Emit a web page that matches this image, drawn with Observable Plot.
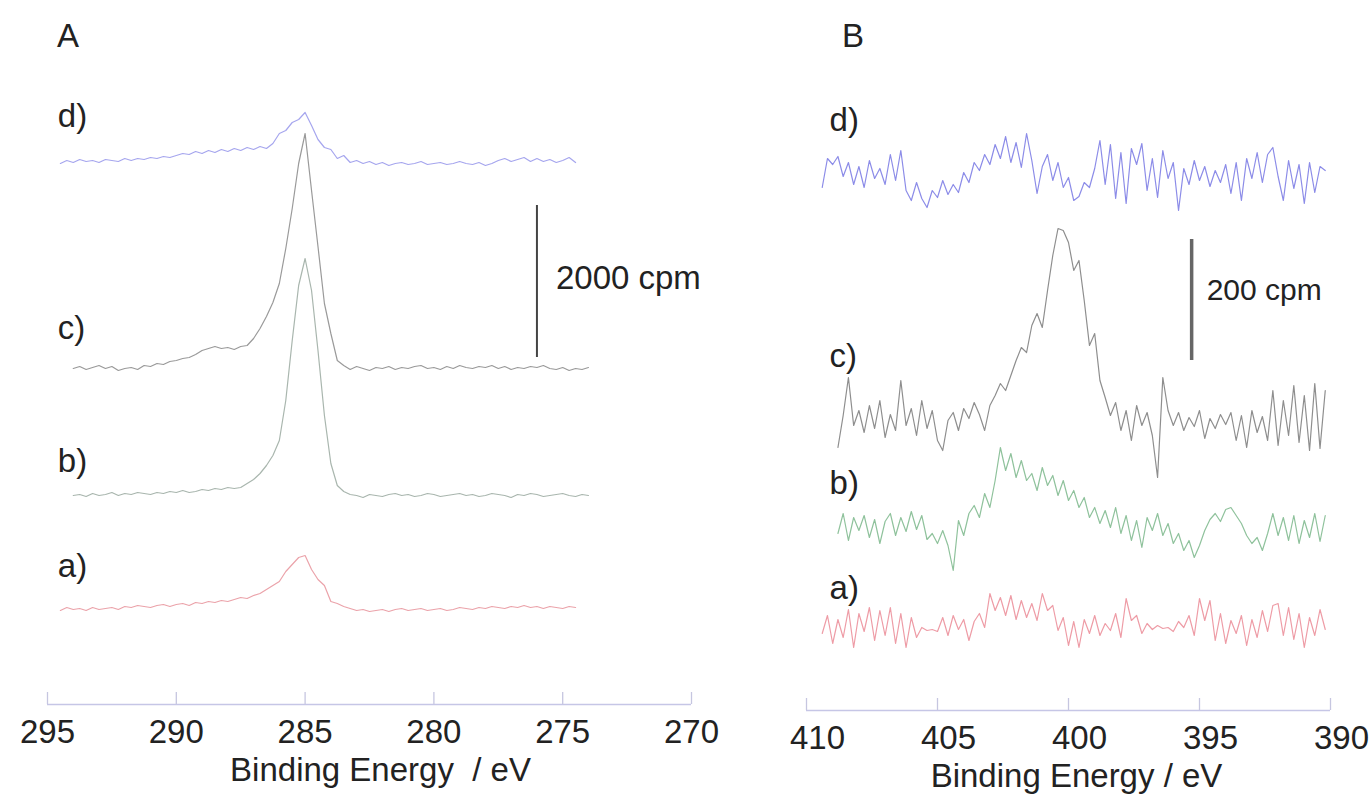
<!DOCTYPE html>
<html>
<head>
<meta charset="utf-8">
<script src="https://cdn.jsdelivr.net/npm/d3@7"></script>
<script src="https://cdn.jsdelivr.net/npm/@observablehq/plot@0.6"></script>
<style>
  html, body { margin: 0; padding: 0; background: #fff; }
  #wrap { position: relative; width: 1372px; height: 803px; overflow: hidden;
          font-family: "Liberation Sans", Arial, Helvetica, sans-serif; }
  .panel { position: absolute; top: 0; }
  .tag { position: absolute; top: 19px; font-size: 33px; line-height: 33px; color: #222; }
</style>
</head>
<body>
<div id="wrap">
  <div class="tag" style="left:57px">A</div>
  <div class="tag" style="left:842px">B</div>
  <div id="pa" class="panel" style="left:0px"></div>
  <div id="pb" class="panel" style="left:760px"></div>
</div>
<script>
// ---------------- DATA ----------------
const seriesNames = ["a)", "b)", "c)", "d)"];

// Panel A: C 1s region (binding energy, eV)
const energyA = [294.5,294.25,294,293.75,293.5,293.25,293,292.75,292.5,292.25,
  292,291.75,291.5,291.25,291,290.75,290.5,290.25,290,289.75,
  289.5,289.25,289,288.75,288.5,288.25,288,287.75,287.5,287.25,
  287,286.75,286.5,286.25,286,285.75,285.5,285.25,285,284.75,
  284.5,284.25,284,283.75,283.5,283.25,283,282.75,282.5,282.25,
  282,281.75,281.5,281.25,281,280.75,280.5,280.25,280,279.75,
  279.5,279.25,279,278.75,278.5,278.25,278,277.75,277.5,277.25,
  277,276.75,276.5,276.25,276,275.75,275.5,275.25,275,274.75,
  274.5,274.25,274];
// intensities (arbitrary units; 152 units = 2000 cpm)
const aA = [-1,2,0,1,-1,2,0,1,2,0, 3,2,4,3,2,4,5,3,5,6, 4,7,6,8,7,9,8,10,12,11,
  14,16,20,24,28,38,45,52,54,40, 30,24,8,6,3,1,-1,0,-2,-1, 0,-2,0,1,-1,0,1,-1,0,1,
  -1,0,2,1,0,2,1,3,2,1, 3,2,4,2,3,1,3,2,1,3, 2,null,null];
const bA = [null,null,0,1,-1,2,0,1,3,0, 2,1,3,2,1,3,2,4,3,5, 3,4,6,5,7,6,8,7,8,12,
  16,22,30,40,55,95,155,210,237,205, 145,80,32,10,4,1,0,-2,1,0, -1,1,2,0,1,-1,0,2,1,-1,
  0,1,2,0,1,-1,0,2,1,0, -2,1,0,2,1,-1,0,1,2,0, -1,1,0];
const cA = [null,null,0,2,-1,1,3,0,2,-2, 0,1,-1,3,2,5,4,7,8,10, 11,14,18,20,22,20,21,19,22,23,
  30,40,52,66,85,120,160,205,235,178, 122,65,35,8,3,-1,2,0,-2,1, 0,2,-1,1,0,2,3,0,1,-1,
  2,0,3,1,0,2,1,3,0,2, -1,1,0,2,1,3,0,-1,1,-2, 0,-1,1];
const dA = [0,3,1,4,2,3,1,4,3,2, 5,3,5,4,6,5,7,6,8,10, 9,12,10,13,11,14,12,15,13,16,
  14,17,15,20,30,33,41,44,51,38, 24,16,14,5,8,1,3,0,2,-1, 1,-2,0,1,-1,0,2,-1,0,1,
  -1,0,2,0,-1,1,-2,0,3,5, 2,4,6,2,5,2,4,1,3,6, 1,null,null];
const offsetsA = [95, 209, 336, 541];       // vertical stacking of a)..d)
const ticksA = [295, 290, 285, 280, 275, 270];

// Panel B: N 1s region (binding energy, eV)
const energyB = [409.4,409.2,409,408.8,408.6,408.4,408.2,408,407.8,407.6,
  407.4,407.2,407,406.8,406.6,406.4,406.2,406,405.8,405.6,
  405.4,405.2,405,404.8,404.6,404.4,404.2,404,403.8,403.6,
  403.4,403.2,403,402.8,402.6,402.4,402.2,402,401.8,401.6,
  401.4,401.2,401,400.8,400.6,400.4,400.2,400,399.8,399.6,
  399.4,399.2,399,398.8,398.6,398.4,398.2,398,397.8,397.6,
  397.4,397.2,397,396.8,396.6,396.4,396.2,396,395.8,395.6,
  395.4,395.2,395,394.8,394.6,394.4,394.2,394,393.8,393.6,
  393.4,393.2,393,392.8,392.6,392.4,392.2,392,391.8,391.6,
  391.4,391.2,391,390.8,390.6,390.4,390.2];
// intensities (arbitrary units; 121 units = 200 cpm)
const aB = [-8,10,-18,6,-12,16,-22,12,-6,18, -15,15,-10,18,-18,12,-22,8,-12,-2,
  -5,-4,-6,8,-10,10,-4,6,-15,4, 12,-2,32,15,28,10,30,6,25,8,
  22,5,32,15,20,-5,8,-20,4,-22, 6,-8,10,-10,2,-5,12,-12,27,5,
  10,-8,2,-4,0,-3,-2,-6,4,-2, 10,-10,27,5,25,-15,12,-18,5,-8,
  10,-20,6,-12,15,-6,20,22,-10,18, -14,12,-22,8,-10,16,-4];
const bB = [null,null,null,-8,12,-15,8,-5,10,-12, 6,-18,4,12,-10,8,-6,14,-4,10,
  -14,-8,-18,-5,-20,-45,5,-10,12,20, 8,32,18,45,78,55,72,48,65,45,
  52,35,58,40,50,30,45,25,35,18, 28,8,18,2,15,-2,18,-8,10,-15,
  5,-22,8,-5,12,-10,2,-18,-8,-25, -15,-32,-20,-5,6,12,4,16,18,10,
  2,-10,-18,-12,-25,-8,12,-10,8,-15, 10,-18,5,-12,12,-16,10];
const cB = [null,null,null,-27,5,43,-5,10,-12,15, -8,20,-17,6,-10,40,-5,12,-15,20,
  -8,10,-20,-30,0,8,-10,12,2,18, 6,-10,15,25,37,30,45,60,73,68,
  95,107,93,130,165,192,190,178,150,160, 120,75,87,40,23,5,18,-10,10,-20,
  15,-5,8,-15,-57,43,10,-5,8,-10, 3,-6,10,-18,2,-8,6,-4,8,-20,
  5,-27,10,-12,4,-20,30,-25,20,-15, 35,-22,25,-30,37,-28,30];
const dB = [-15,14,8,16,-4,10,-12,6,-15,12, -6,4,-12,18,-8,22,-18,-28,-10,-26,
  -35,-18,-25,-8,-22,-12,-20,0,-10,10, 2,18,8,28,14,36,10,30,5,39,
  12,-21,6,18,-8,10,-15,-5,-28,-24, -10,-15,4,32,-12,28,-26,20,-31,24,
  8,29,-18,14,-25,22,-6,10,-38,4, -12,12,-8,6,-14,2,-10,8,-21,10,
  -28,14,-6,20,-10,18,25,-4,-28,12, -16,8,-31,10,-20,6,2];
const offsetsB = [85, 185, 290, 538];
const ticksB = [410, 405, 400, 395, 390];

// ---------------- DRAW ----------------
const FONT = '"Liberation Sans", Arial, Helvetica, sans-serif';
const H = 803, TOP = 90;

function rows(energy, seriesValues, offsets, unit) {
  const out = [];
  seriesValues.forEach((vals, k) => vals.forEach((v, i) => {
    if (v != null) out.push({energy: energy[i], series: seriesNames[k], cpm: (v + offsets[k]) * unit});
  }));
  return out;
}

function panel(o) {
  const plotH = H - TOP - o.marginBottom;
  const data = rows(o.energy, o.values, o.offsets, o.unit);
  const labels = seriesNames.map((s, k) => ({s, y: (o.offsets[k] + o.lifts[k]) * o.unit}));
  return Plot.plot({
    width: o.width, height: H,
    marginTop: TOP, marginBottom: o.marginBottom, marginLeft: o.marginLeft, marginRight: o.marginRight,
    style: {fontFamily: FONT, background: "transparent", color: "#222", overflow: "visible"},
    x: {domain: o.xDomain, axis: null},
    y: {domain: [0, plotH * o.unit], axis: null},
    color: {domain: seriesNames, range: o.colors},
    marks: [
      Plot.ruleY([0], {stroke: "#c6c6e6", strokeWidth: 1.6}),
      Plot.ruleX(o.ticks, {x: d => d, stroke: "#c6c6e0", strokeWidth: 1.3, insetTop: plotH - 12}),
      Plot.axisX(o.ticks, {tickSize: 0, tickPadding: 15, fontSize: 33, fill: "#222", dx: o.tickDx,
                           label: null, tickFormat: d => String(d)}),
      Plot.line(data, {x: "energy", y: "cpm", z: "series", stroke: "series", strokeWidth: 1.2}),
      Plot.text(labels, {x: o.labelX, y: "y", text: "s", textAnchor: "start", fontSize: 33, fill: "#222"}),
      Plot.ruleX([o.bar.energy], {y1: o.bar.bottom * o.unit, y2: o.bar.bottom * o.unit + o.bar.cpm,
                                  stroke: o.bar.color, strokeWidth: o.bar.width}),
      Plot.text([o.bar.label], {x: o.bar.energy, y: o.bar.textLevel * o.unit, dx: o.bar.dx,
                                textAnchor: "start", fontSize: o.bar.fontSize, fill: "#222"}),
      Plot.text([o.title], {frameAnchor: "bottom", dy: 76, dx: o.titleDx, fontSize: 33, fill: "#222"})
    ]
  });
}

document.getElementById("pa").append(panel({
  energy: energyA, values: [aA, bA, cA, dA], offsets: offsetsA, unit: 2000 / 152,
  colors: ["#eba3aa", "#a9b6ae", "#9a9a9a", "#a6a6ee"],
  ticks: ticksA, xDomain: [295, 270],
  width: 720, marginLeft: 47, marginRight: 29, marginBottom: 99, tickDx: 0,
  labelX: 294.6, lifts: [43, 34, 40, 47],
  bar: {energy: 276.0, bottom: 347, cpm: 2000, label: "2000 cpm", textLevel: 426, dx: 19,
        fontSize: 33, color: "#444", width: 2},
  title: "Binding Energy\u00a0 / eV", titleDx: 11
}));

document.getElementById("pb").append(panel({
  energy: energyB, values: [aB, bB, cB, dB], offsets: offsetsB, unit: 200 / 121,
  colors: ["#ee9ca6", "#8fc29c", "#8e8e8e", "#8c8ce8"],
  ticks: ticksB, xDomain: [410, 390],
  width: 612, marginLeft: 46, marginRight: 42, marginBottom: 93, tickDx: 11,
  labelX: 409.12, lifts: [37, 42, 64, 52],
  bar: {energy: 395.3, bottom: 350, cpm: 200, label: "200 cpm", textLevel: 420, dx: 15,
        fontSize: 30, color: "#666", width: 3.5},
  title: "Binding Energy / eV", titleDx: 8
}));
</script>
</body>
</html>
